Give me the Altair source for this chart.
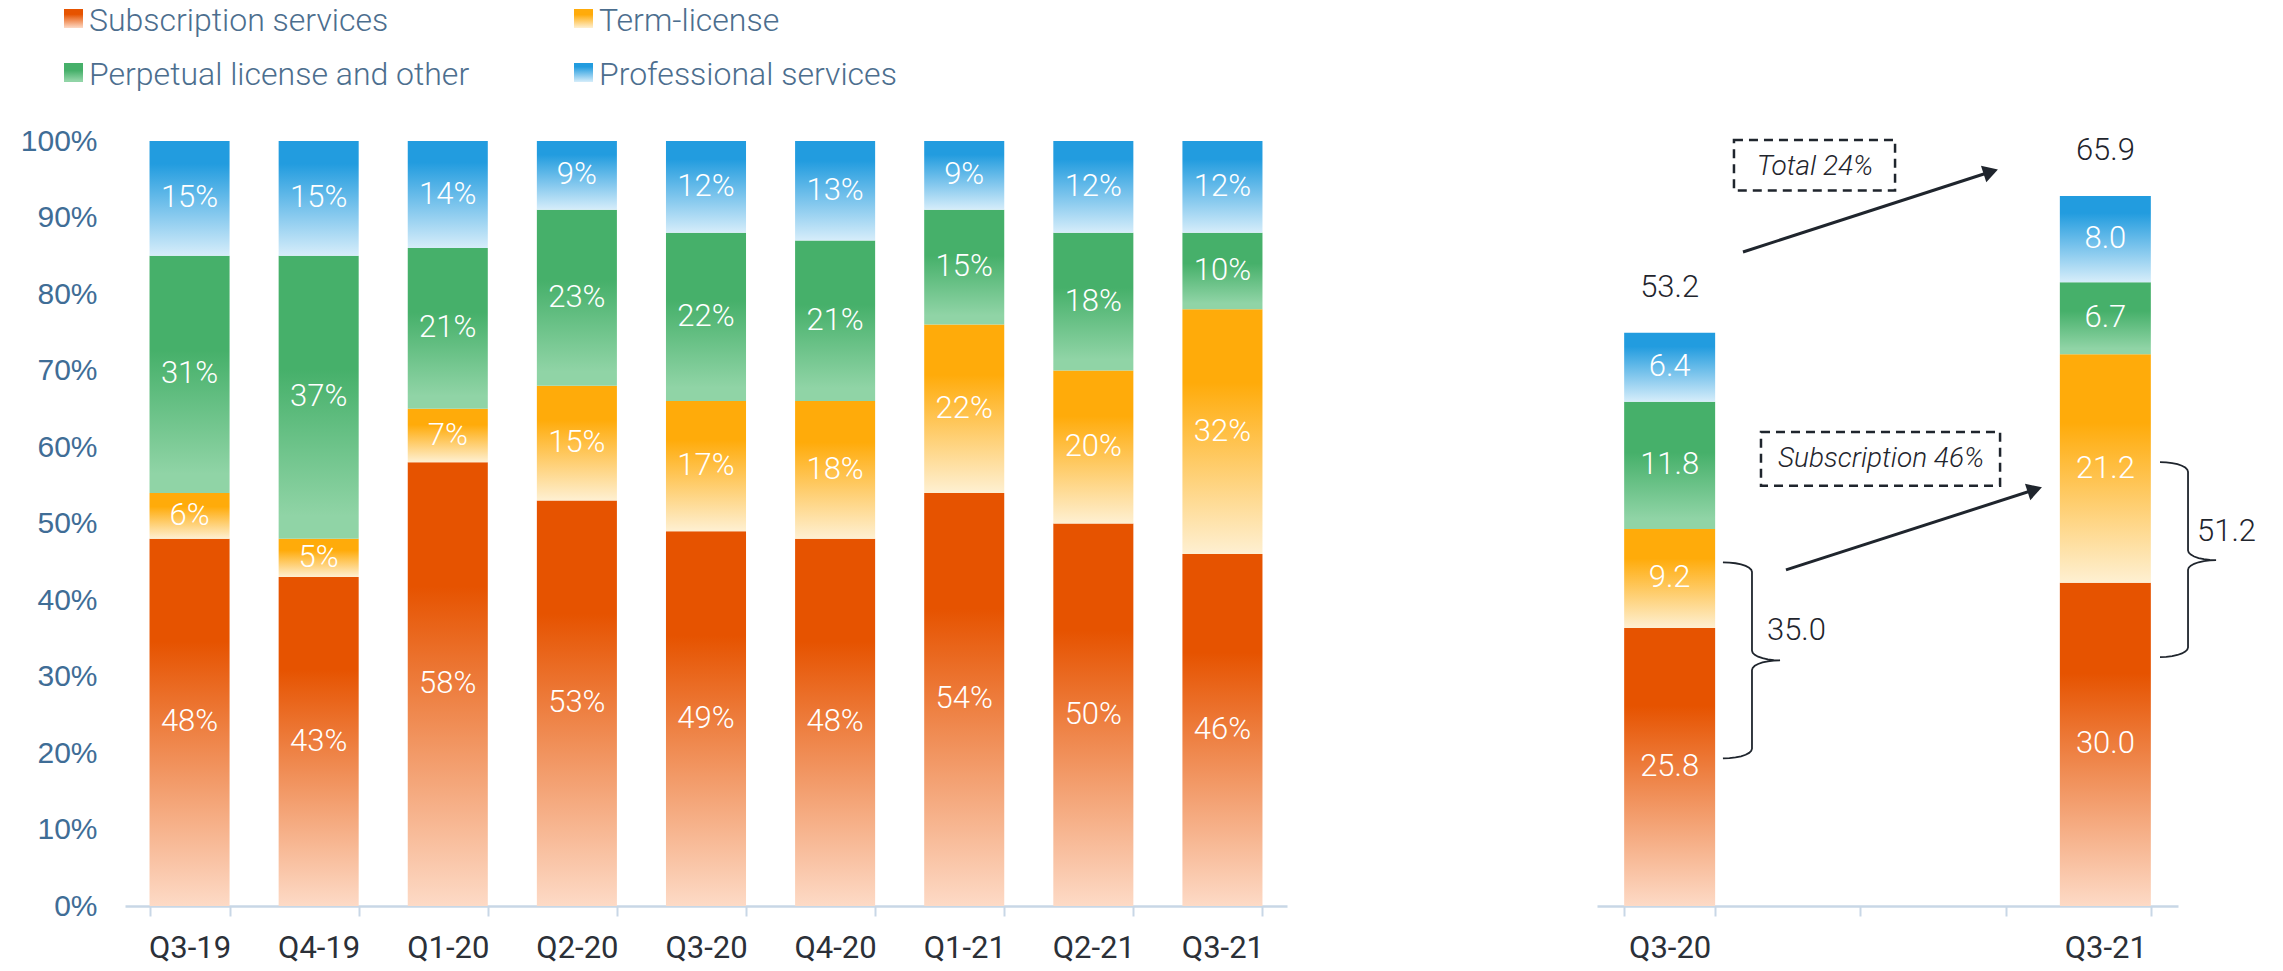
import altair as alt
import pandas as pd
import numpy as np

# ---------------- data ----------------
quarters = ["Q3-19", "Q4-19", "Q1-20", "Q2-20", "Q3-20", "Q4-20", "Q1-21", "Q2-21", "Q3-21"]
series = ["Subscription services", "Term-license", "Perpetual license and other", "Professional services"]
subscription_pct = [48, 43, 58, 53, 49, 48, 54, 50, 46]
term_pct = [6, 5, 7, 15, 17, 18, 22, 20, 32]
perpetual_pct = [31, 37, 21, 23, 22, 21, 15, 18, 10]
professional_pct = [15, 15, 14, 9, 12, 13, 9, 12, 12]
pct_ticks = [0, 10, 20, 30, 40, 50, 60, 70, 80, 90, 100]

yoy_quarters = ["Q3-20", "Q3-21"]
yoy_slots = ["Q3-20", " ", "  ", "Q3-21"]
subscription_val = [25.8, 30.0]
term_val = [9.2, 21.2]
perpetual_val = [11.8, 6.7]
professional_val = [6.4, 8.0]

growth_labels = ["Total 24%", "Subscription 46%"]
bracket_labels = ["35.0", "51.2"]

# ---------------- layout / style ----------------
W, H = 2053, 765
LEFT_RANGE = [0, 1162]
RIGHT_RANGE = [1472, 2053]
Y_RIGHT_MAX = 71

FONT = "Roboto"
DARK = "#1F252D"

colors = {
    "Subscription services": ("#E65300", "#FDDAC6", 0.28, 1.0),
    "Term-license": ("#FFAB0A", "#FEF0D2", 0.30, 1.0),
    "Perpetual license and other": ("#46B06A", "#90D4A6", 0.40, 0.92),
    "Professional services": ("#229CDF", "#D6EDFA", 0.20, 1.0),
}


def grad(s):
    dark, light, hold, end = colors[s]
    return alt.LinearGradient(
        gradient="linear", x1=0, x2=0, y1=0, y2=1,
        stops=[alt.GradientStop(color=dark, offset=0),
               alt.GradientStop(color=dark, offset=hold),
               alt.GradientStop(color=light, offset=end),
               alt.GradientStop(color=light, offset=1)])


rows = []
for s, vals in zip(series, [subscription_pct, term_pct, perpetual_pct, professional_pct]):
    for q, v in zip(quarters, vals):
        rows.append({"quarter": q, "series": s, "order": series.index(s), "value": v})
dfL = pd.DataFrame(rows)

rows = []
for s, vals in zip(series, [subscription_val, term_val, perpetual_val, professional_val]):
    for q, v in zip(yoy_quarters, vals):
        rows.append({"quarter": q, "series": s, "order": series.index(s), "value": v})
dfR = pd.DataFrame(rows)


def xL(axis=None):
    return alt.X("quarter:N", scale=alt.Scale(domain=quarters, range=LEFT_RANGE,
                                              paddingInner=0.38, paddingOuter=0.19),
                 axis=axis, title=None)


def xR(axis=None):
    return alt.X("quarter:N", scale=alt.Scale(domain=yoy_slots, range=RIGHT_RANGE,
                                              paddingInner=0.3735, paddingOuter=0.187),
                 axis=axis, title=None)


yLscale = alt.Scale(domain=[0, 100], nice=False, zero=True)
yRscale = alt.Scale(domain=[0, Y_RIGHT_MAX], nice=False, zero=True)
xAscale = alt.Scale(domain=[0, 4], range=RIGHT_RANGE, nice=False, zero=False)


def x_axis():
    return alt.Axis(title=None, orient="bottom", tickBand="extent", domainColor="#C8D7E6",
                    domainWidth=2.5, tickColor="#C8D7E6", tickWidth=2, tickSize=10,
                    labelFont=FONT, labelFontSize=31, labelColor="#2B3038", labelPadding=17,
                    labelAngle=0, grid=False)


y_axis = alt.Axis(values=pct_ticks, labelExpr="datum.value + '%'", domain=False, ticks=False,
                  grid=False, labelFont="Liberation Sans", labelFontSize=30, orient="left",
                  labelColor="#3F6D96", labelPadding=28, title=None)

layers = []

# ---- left panel: 100% stacked bars ----
baseL = alt.Chart(dfL).transform_stack(
    stack="value", groupby=["quarter"], as_=["y0", "y1"], sort=[alt.SortField("order")])

for i, s in enumerate(series):
    first = i == 0
    layers.append(
        baseL.transform_filter(alt.datum.series == s)
        .mark_bar(color=grad(s))
        .encode(x=xL(x_axis() if first else None),
                y=alt.Y("y0:Q", scale=yLscale, axis=y_axis if first else None),
                y2="y1:Q"))

layers.append(
    baseL.transform_calculate(mid="(datum.y0 + datum.y1) / 2", lbl="datum.value + '%'")
    .mark_text(color="white", font=FONT, fontWeight=300, fontSize=31, baseline="middle")
    .encode(x=xL(), y=alt.Y("mid:Q", scale=yLscale, axis=None), text="lbl:N"))

# ---- right panel: absolute values ----
baseR = alt.Chart(dfR).transform_stack(
    stack="value", groupby=["quarter"], as_=["y0", "y1"], sort=[alt.SortField("order")])

for i, s in enumerate(series):
    first = i == 0
    layers.append(
        baseR.transform_filter(alt.datum.series == s)
        .mark_bar(color=grad(s))
        .encode(x=xR(x_axis() if first else None),
                y=alt.Y("y0:Q", scale=yRscale, axis=None),
                y2="y1:Q"))

layers.append(
    baseR.transform_calculate(mid="(datum.y0 + datum.y1) / 2")
    .mark_text(color="white", font=FONT, fontWeight=300, fontSize=31, baseline="middle")
    .encode(x=xR(), y=alt.Y("mid:Q", scale=yRscale, axis=None),
            text=alt.Text("value:Q", format=".1f")))

layers.append(
    alt.Chart(dfR).transform_aggregate(total="sum(value)", groupby=["quarter"])
    .mark_text(color=DARK, font=FONT, fontWeight=300, fontSize=31, baseline="middle", dy=-45)
    .encode(x=xR(), y=alt.Y("total:Q", scale=yRscale, axis=None),
            text=alt.Text("total:Q", format=".1f")))

# ---- annotations (x in slot units of the right panel, y in value units) ----
box_x0 = [0.943, 1.129]
box_x1 = [2.052, 2.775]
box_y0 = [71.1, 44.0]
box_y1 = [66.4, 39.0]
box_tx = [1.50, 1.955]
box_ty = [68.6, 41.5]
dfBox = pd.DataFrame({"x0": box_x0, "x1": box_x1, "y0": box_y0, "y1": box_y1,
                      "tx": box_tx, "ty": box_ty, "t": growth_labels})

layers.append(
    alt.Chart(dfBox).mark_rect(fill="white", fillOpacity=0, stroke=DARK, strokeWidth=2.5,
                               strokeDash=[9, 6])
    .encode(x=alt.X("x0:Q", scale=xAscale, axis=None), x2="x1:Q",
            y=alt.Y("y0:Q", scale=yRscale, axis=None), y2="y1:Q"))
layers.append(
    alt.Chart(dfBox).mark_text(color=DARK, font=FONT, fontWeight=300, fontStyle="italic",
                               fontSize=28, baseline="middle")
    .encode(x=alt.X("tx:Q", scale=xAscale, axis=None),
            y=alt.Y("ty:Q", scale=yRscale, axis=None), text="t:N"))

# arrows
arrow_id = [0, 0, 1, 1]
arrow_x = [1.005, 2.711, 1.301, 3.014]
arrow_y = [60.7, 68.15, 31.2, 38.64]
dfArrow = pd.DataFrame({"id": arrow_id, "x": arrow_x, "y": arrow_y,
                        "k": [0, 1, 0, 1]})
layers.append(
    alt.Chart(dfArrow).mark_line(color=DARK, strokeWidth=3)
    .encode(x=alt.X("x:Q", scale=xAscale, axis=None),
            y=alt.Y("y:Q", scale=yRscale, axis=None),
            detail="id:N", order="k:O"))
layers.append(
    alt.Chart(dfArrow).transform_filter(alt.datum.k == 1)
    .mark_point(shape="triangle-right", filled=True, color=DARK, opacity=1, size=300, angle=342)
    .encode(x=alt.X("x:Q", scale=xAscale, axis=None),
            y=alt.Y("y:Q", scale=yRscale, axis=None)))

# curly brackets
brace_open = [0.867, 3.876]
brace_spine = [1.067, 4.069]
brace_tip = [1.260, 4.262]
brace_top = [31.9, 41.2]
brace_bottom = [13.7, 23.1]
brace_mid = [22.8, 32.1]
brace_label_x = [1.170, 4.131]
brace_label_y = [25.5, 34.7]


def brace_points(x_open, x_spine, x_tip, y_top, y_bot, y_mid, ry=0.9):
    th = np.linspace(0, np.pi / 2, 8)
    a = x_spine - x_open
    b = x_tip - x_spine
    pts = []
    for t in th:
        pts.append((x_open + a * np.sin(t), y_top - ry + ry * np.cos(t)))
    for t in th:
        pts.append((x_tip - b * np.cos(t), y_mid + ry - ry * np.sin(t)))
    for t in th[::-1]:
        pts.append((x_tip - b * np.cos(t), y_mid - ry + ry * np.sin(t)))
    for t in th[::-1]:
        pts.append((x_open + a * np.sin(t), y_bot + ry - ry * np.cos(t)))
    return pts


rows = []
for j in range(2):
    pts = brace_points(brace_open[j], brace_spine[j], brace_tip[j],
                       brace_top[j], brace_bottom[j], brace_mid[j])
    for k, (px, py) in enumerate(pts):
        rows.append({"id": j, "k": k, "x": px, "y": py})
dfBrace = pd.DataFrame(rows)
layers.append(
    alt.Chart(dfBrace).mark_line(color=DARK, strokeWidth=1.8)
    .encode(x=alt.X("x:Q", scale=xAscale, axis=None),
            y=alt.Y("y:Q", scale=yRscale, axis=None),
            detail="id:N", order="k:Q"))
dfBraceLbl = pd.DataFrame({"x": brace_label_x, "y": brace_label_y, "t": bracket_labels})
layers.append(
    alt.Chart(dfBraceLbl).mark_text(color=DARK, font=FONT, fontWeight=300, fontSize=31,
                                    baseline="middle", align="left")
    .encode(x=alt.X("x:Q", scale=xAscale, axis=None),
            y=alt.Y("y:Q", scale=yRscale, axis=None), text="t:N"))

# ---- legend (drawn by hand so the swatches can carry the gradients) ----
legend_col_x = [-61, 449]
legend_row_y = [-132, -78]
for i, s in enumerate(series):
    cx = legend_col_x[i % 2]
    ry = legend_row_y[i // 2]
    one = alt.Chart(pd.DataFrame({"k": [0]}))
    layers.append(one.mark_rect(color=grad(s)).encode(
        x=alt.value(cx), x2=alt.value(cx + 19), y=alt.value(ry), y2=alt.value(ry + 19)))
    layers.append(one.mark_text(text=s, align="left", baseline="middle", font=FONT,
                                fontWeight=300, fontSize=32, color="#4C6E8E").encode(
        x=alt.value(cx + 25), y=alt.value(ry + 12)))

chart = (
    alt.layer(*layers)
    .resolve_scale(x="independent", y="independent")
    .properties(width=W, height=H,
                autosize=alt.AutoSizeParams(type="none"),
                padding={"left": 125, "top": 141, "right": 105, "bottom": 65})
    .configure_view(strokeWidth=0)
)

chart.save("out.html", embed_options={"renderer": "svg", "actions": False})
